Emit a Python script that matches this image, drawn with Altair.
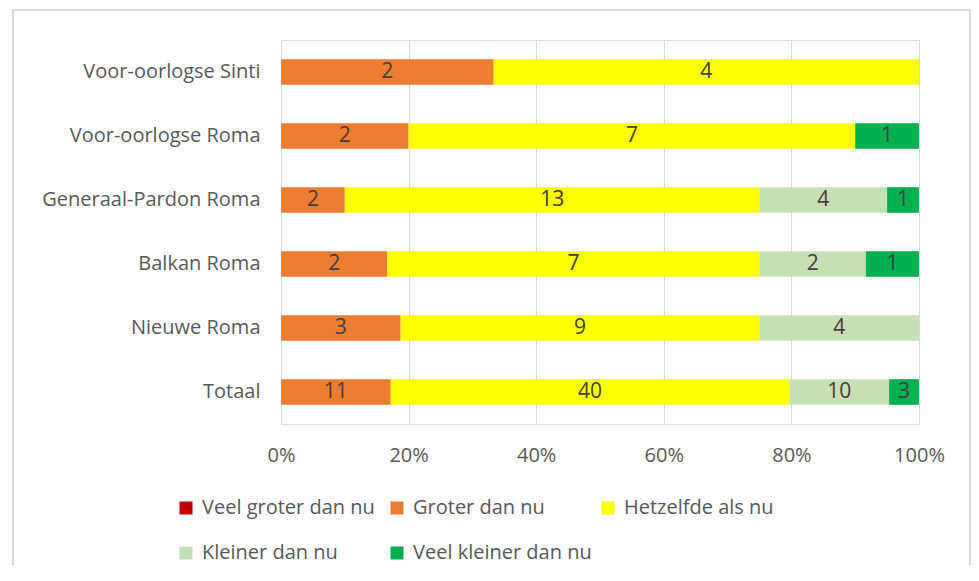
import altair as alt
import pandas as pd

categories = ["Voor-oorlogse Sinti", "Voor-oorlogse Roma", "Generaal-Pardon Roma",
              "Balkan Roma", "Nieuwe Roma", "Totaal"]
series = ["Veel groter dan nu", "Groter dan nu", "Hetzelfde als nu",
          "Kleiner dan nu", "Veel kleiner dan nu"]
colors = ["#C00000", "#ED7D31", "#FFFF00", "#C5E0B4", "#00B050"]

veel_groter = [0, 0, 0, 0, 0, 0]
groter = [2, 2, 2, 2, 3, 11]
hetzelfde = [4, 7, 13, 7, 9, 40]
kleiner = [0, 0, 4, 2, 4, 10]
veel_kleiner = [0, 1, 1, 1, 0, 3]

values = [veel_groter, groter, hetzelfde, kleiner, veel_kleiner]
rows = []
for si, (s, vals) in enumerate(zip(series, values)):
    for c, v in zip(categories, vals):
        rows.append({"cat": c, "series": s, "order": si, "value": v})
df = pd.DataFrame(rows)

FONT = "Open Sans"
W, H = 638, 384

base = alt.Chart(df).transform_stack(
    stack="value", groupby=["cat"], sort=[alt.SortField("order")],
    as_=["v0", "v1"], offset="normalize"
).transform_calculate(mid="(datum.v0 + datum.v1) / 2")

y_enc = alt.Y("cat:N", sort=categories, title=None,
              scale=alt.Scale(paddingInner=0.6, paddingOuter=0.3),
              axis=alt.Axis(domain=False, ticks=False, labelPadding=21, labelLimit=400,
                            labelFontSize=20, labelColor="#595959", labelFont=FONT))

bars = base.mark_bar().encode(
    x=alt.X("v0:Q", scale=alt.Scale(domain=[0, 1], nice=False), title=None,
            axis=alt.Axis(format="%", values=[0, 0.2, 0.4, 0.6, 0.8, 1.0],
                          domain=False, ticks=False, grid=True, gridColor="#D9D9D9",
                          labelPadding=21, labelFontSize=20, labelColor="#595959",
                          labelFont=FONT, labelFlush=False)),
    x2="v1:Q",
    y=y_enc,
    color=alt.Color("series:N", sort=series,
                    scale=alt.Scale(domain=series, range=colors),
                    legend=alt.Legend(title=None, orient="none", legendX=-105, legendY=458,
                                      direction="horizontal", columns=3, gridAlign="all",
                                      columnPadding=6, rowPadding=25,
                                      symbolType="square", symbolSize=169,
                                      symbolStrokeWidth=0, labelFontSize=20,
                                      labelColor="#595959", labelFont=FONT, labelOffset=6,
                                      labelLimit=400)),
    order=alt.Order("order:Q"),
)

labels = base.transform_filter("datum.value > 0").mark_text(
    fontSize=21, color="#404040", font=FONT
).encode(
    x=alt.X("mid:Q"),
    y=alt.Y("cat:N", sort=categories),
    text=alt.Text("value:Q"),
)

frame = alt.Chart(pd.DataFrame({"k": [0]})).mark_rect(
    fill=None, stroke="#D9D9D9", strokeWidth=2
).encode(x=alt.value(-268), x2=alt.value(689), y=alt.value(-30), y2=alt.value(620))

chart = alt.layer(frame, bars, labels).properties(
    width=W, height=H, autosize=alt.AutoSizeParams(type="none"),
    padding={"left": 273, "top": 32, "right": 52, "bottom": 141}
).configure_view(stroke=None).configure(background="white")

chart.save("out.html", embed_options={"renderer": "svg", "actions": False})
